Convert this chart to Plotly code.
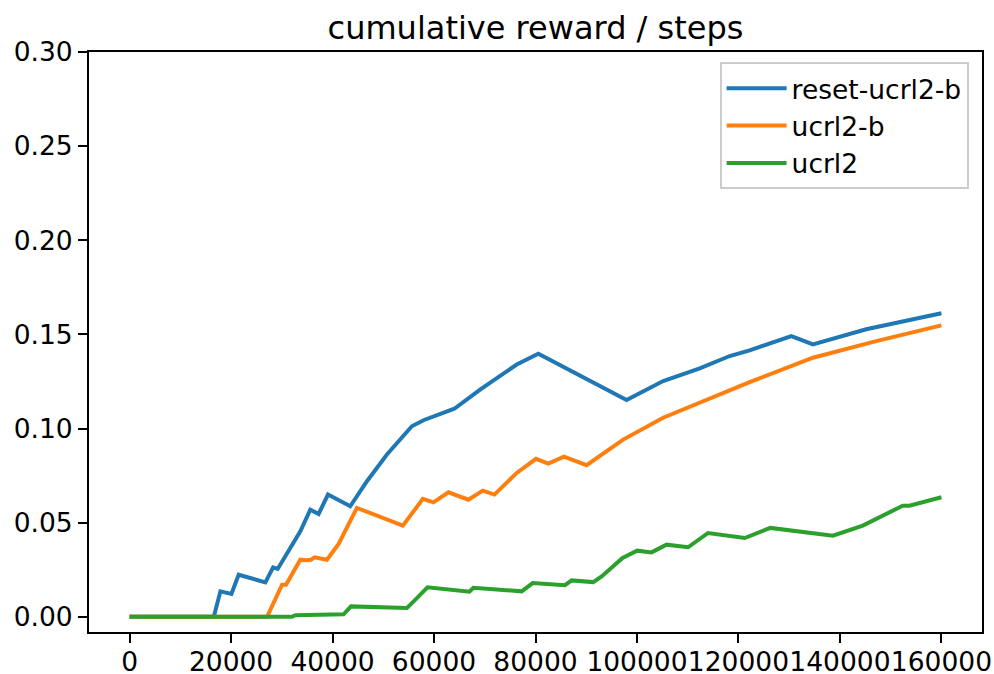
import plotly.graph_objects as go

# ---- data ----
reset_x = [0, 16600, 17900, 20070, 21500, 26760, 28280, 29190, 33650, 35620, 37260, 39100,
           43490, 46780, 50720, 55630, 57920, 64000, 69080, 76300, 80560, 97950, 105160,
           112370, 118280, 122200, 130420, 134680, 145180, 153050, 160000]
reset_y = [0, 0, 0.0135, 0.0121, 0.0223, 0.0183, 0.0262, 0.0254, 0.0454, 0.0569, 0.0546, 0.0649,
           0.0587, 0.0720, 0.0862, 0.1012, 0.1044, 0.1105, 0.1207, 0.1340, 0.1397, 0.1151, 0.1252,
           0.1319, 0.1385, 0.1415, 0.1491, 0.1447, 0.1527, 0.1574, 0.1612]

ucrlb_x = [0, 27100, 30050, 30830, 33650, 34830, 35750, 36470, 38900, 41200, 44800, 53860,
           57800, 59890, 62840, 66780, 69600, 71900, 76300, 80100, 82520, 85610, 90070,
           97280, 105160, 112370, 122210, 134680, 147150, 160000]
ucrlb_y = [0, 0, 0.0170, 0.0170, 0.0303, 0.0300, 0.0303, 0.0316, 0.0303, 0.0387, 0.0578, 0.0484,
           0.0626, 0.0608, 0.0661, 0.0622, 0.0670, 0.0649, 0.0764, 0.0839, 0.0814, 0.0851, 0.0805,
           0.0941, 0.1057, 0.1137, 0.1246, 0.1376, 0.1464, 0.1548]

ucrl_x = [0, 32000, 32670, 37500, 37920, 42180, 43630, 54650, 56280, 58710, 66980, 67760,
          77280, 79440, 85800, 87120, 91380, 93030, 97160, 100040, 102870, 105820, 110070,
          114010, 121230, 126280, 138610, 144510, 152380, 153700, 160000]
ucrl_y = [0, 0, 0.0008, 0.0008, 0.0013, 0.0013, 0.0055, 0.0046, 0.0090, 0.0156, 0.0133, 0.0154,
          0.0135, 0.0179, 0.0168, 0.0193, 0.0184, 0.0214, 0.0312, 0.0351, 0.0342, 0.0383, 0.0369,
          0.0445, 0.0418, 0.0472, 0.0431, 0.0484, 0.0590, 0.0590, 0.0635]

series_names = ["reset-ucrl2-b", "ucrl2-b", "ucrl2"]
series_colors = ["#1f77b4", "#ff7f0e", "#2ca02c"]
x_ticks = [0, 20000, 40000, 60000, 80000, 100000, 120000, 140000, 160000]
y_ticks = [0.0, 0.05, 0.10, 0.15, 0.20, 0.25, 0.30]

FONT = "DejaVu Sans"
TICK_SIZE = 26.5

fig = go.Figure()
for name, xs, ys, col in zip(series_names, [reset_x, ucrlb_x, ucrl_x],
                             [reset_y, ucrlb_y, ucrl_y], series_colors):
    fig.add_trace(go.Scatter(x=xs, y=ys, mode="lines", name=name,
                             line=dict(color=col, width=4)))

axis_common = dict(showline=True, linecolor="black", linewidth=2, mirror=True,
                   ticks="outside", ticklen=9, tickwidth=2, tickcolor="black",
                   showgrid=False, zeroline=False, automargin=False, tickangle=0,
                   tickfont=dict(family=FONT, size=TICK_SIZE, color="black"))

fig.update_layout(
    width=994, height=674,
    margin=dict(l=89, r=12, t=52, b=42),
    paper_bgcolor="white", plot_bgcolor="white",
    font=dict(family=FONT, color="black"),
    title=dict(text="cumulative reward / steps", x=0.5, xanchor="center",
               xref="paper", yref="paper", y=1, yanchor="bottom",
               pad=dict(b=13), font=dict(family=FONT, size=32, color="black")),
    xaxis=dict(range=[-8000, 168000], tickvals=x_ticks, ticklabelstandoff=-4,
               ticktext=[str(v) for v in x_ticks], **axis_common),
    yaxis=dict(range=[-0.0081, 0.30], tickvals=y_ticks,
               ticktext=[f"{v:.2f}" for v in y_ticks], **axis_common),
    legend=dict(x=0.985, y=0.982, xanchor="right", yanchor="top",
                bordercolor="#cccccc", borderwidth=2, bgcolor="rgba(255,255,255,0.8)",
                font=dict(family=FONT, size=TICK_SIZE, color="black"),
                tracegroupgap=0, itemwidth=60),
    showlegend=True,
)

fig.write_html("out.html", config={"displayModeBar": False},
               post_script="document.body.style.margin='0';")
